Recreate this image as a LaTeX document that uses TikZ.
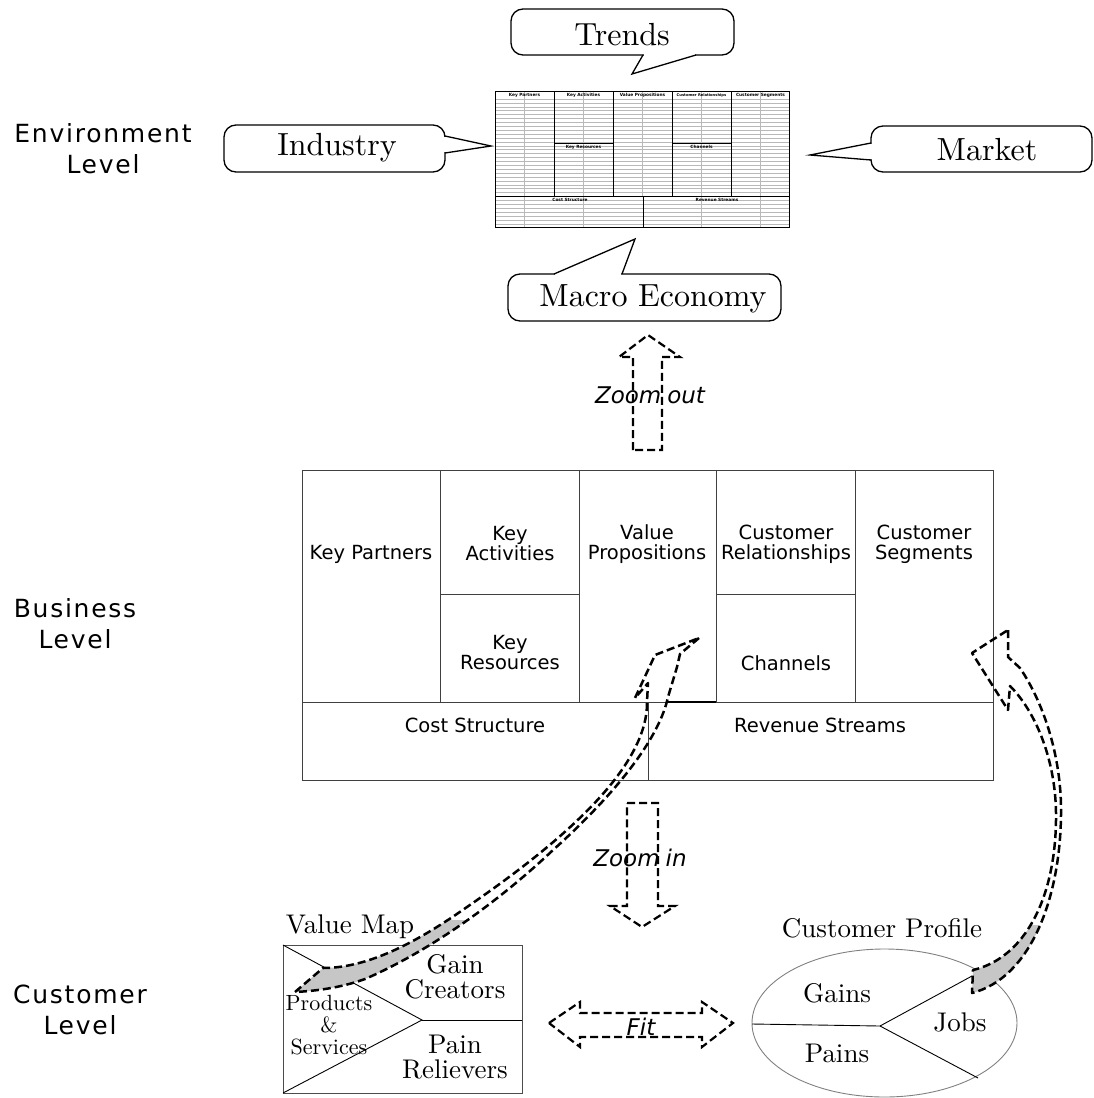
\documentclass[tikz,border=0pt]{standalone}
\usepackage{fontspec}
\newfontfamily\dejavu{DejaVu Sans}
\newfontfamily\lvlfont[LetterSpace=7]{DejaVu Sans}
\newfontfamily\cmten{lmroman10-regular}[Extension=.otf]
\newcommand{\arrowApath}[1]{\path[#1] (699,638) -- (680,654) -- (677,667) -- (668,697)
  .. controls (660,735) and (622,788) .. (552,851)
  .. controls (500,900) and (432,950) .. (365,979)
  .. controls (340,988) and (315,991) .. (295,992)
  -- (323,968)
  .. controls (370,968) and (420,940) .. (467,907)
  .. controls (550,850) and (648,772) .. (647,702)
  -- (648,683) -- (635,698) -- (655,655) -- cycle;}
\newcommand{\arrowBpath}[1]{\path[#1] (1008,630) -- (1008,657) -- (1020,668)
  .. controls (1045,705) and (1062,760) .. (1061,815)
  .. controls (1060,900) and (1030,978) .. (972,993)
  -- (973,970)
  .. controls (1024,958) and (1055,900) .. (1056,820)
  .. controls (1057,762) and (1036,712) .. (1010,686)
  -- (1008,710) -- (972,653) -- cycle;}
\begin{document}
\begin{tikzpicture}[x=1pt,y=-1pt,
  lvl/.style={font=\lvlfont\fontsize{25}{31}\selectfont, align=center, inner sep=0},
  bmc/.style={font=\dejavu\fontsize{19.5}{20}\selectfont, align=center, inner sep=0},
  tiny/.style={font=\dejavu\bfseries\fontsize{4.3}{5}\selectfont, inner sep=0},
  serif/.style={font=\cmten\fontsize{27}{25}\selectfont, align=center, inner sep=0},
  calltext/.style={font=\cmten\fontsize{32}{32}\selectfont, inner sep=0},
  callout/.style={draw, rounded corners=12pt, line width=1.3pt, fill=white},
  pointer/.style={line width=1.3pt, line join=miter},
  eraser/.style={draw=white, line width=3pt},
  bmcline/.style={draw=black!75, line width=1pt},
  gridline/.style={draw=gray!55, line width=0.45pt},
  heavyline/.style={draw=black, line width=0.9pt},
  dashedarrow/.style={draw, line width=2.5pt, dash pattern=on 8pt off 4pt, line join=round},
  blockarrow/.style={draw, line width=2.2pt, dash pattern=on 8pt off 4pt, line join=miter},
  ital/.style={font=\dejavu\itshape\fontsize{23}{23}\selectfont, inner sep=0},
  tailfill/.style={fill=gray!45}
]
\useasboundingbox (0,0) rectangle (1094,1098);

% ---------- level labels ----------
\node[lvl] (envlvl) at (103,149) {Environment\\Level};
\node[lvl] (buslvl) at (75,624) {Business\\Level};
\node[lvl] (custlvl) at (80,1010) {Customer\\Level};

% ---------- thumbnail canvas ----------
\fill[white] (495,91) rectangle (789,227);
\foreach \i in {0,...,32} \draw[gridline] (495,{99+3.9*\i}) -- (789,{99+3.9*\i});
\foreach \x in {524.5,583.5,701.5,760.5} \draw[gridline] (\x,91) -- (\x,227);
\draw[gridline] (642.5,91) -- (642.5,196);
\draw[heavyline] (495,91) rectangle (789,227);
\foreach \x in {554,613,672,731} \draw[heavyline] (\x,91) -- (\x,196);
\draw[heavyline] (554,143) -- (613,143);
\draw[heavyline] (672,143) -- (731,143);
\draw[heavyline] (495,196) -- (789,196);
\draw[heavyline] (643,196) -- (643,227);
\node[tiny] (tkp) at (524.5,95) {Key Partners};
\node[tiny] (tka) at (583.5,95) {Key Activities};
\node[tiny] (tvp) at (642.5,95) {Value Propositions};
\node[tiny, font=\dejavu\bfseries\fontsize{3.7}{4}\selectfont] (tcr) at (701.5,95) {Customer Relationships};
\node[tiny] (tcs) at (760.5,95) {Customer Segments};
\node[tiny] (tkr) at (583.5,147) {Key Resources};
\node[tiny] (tch) at (701.5,147) {Channels};
\node[tiny] (tcost) at (570,200) {Cost Structure};
\node[tiny] (trev) at (717,200) {Revenue Streams};

% ---------- callouts ----------
\draw[callout] (511,9) rectangle (734,55);
\draw[eraser] (644,55) -- (695,55);
\draw[pointer] (643,55) -- (632,74) -- (696,55);
\node[calltext] (trends) at (622,35) {Trends};

\draw[callout] (224,125) rectangle (445,172);
\draw[eraser] (445,137) -- (445,152);
\draw[pointer] (445,136) -- (491,146) -- (445,153);
\node[calltext] (industry) at (337,148) {Industry};

\draw[callout] (871,126) rectangle (1092,172);
\draw[eraser] (871,144) -- (871,159);
\draw[pointer] (871,143) -- (810,155) -- (871,160);
\node[calltext] (market) at (987,150) {Market};

\draw[callout] (508,274) rectangle (781,321);
\draw[eraser] (555,274) -- (621,274);
\draw[pointer] (554,274) -- (635,239) -- (622,274);
\node[calltext] (macro) at (653,299) {Macro Economy};

% ---------- zoom out arrow ----------
\draw[blockarrow] (633,450) -- (633,357) -- (619,357) -- (648,335) -- (680,357) -- (662,357) -- (662,450) -- cycle;
\node[ital] (zoomout) at (650,395) {Zoom\hspace{6pt}out};

% ---------- business model canvas ----------
\draw[bmcline] (302,470) rectangle (993,780);
\foreach \x in {440,579,716,855} \draw[bmcline] (\x,470) -- (\x,702);
\draw[bmcline] (440,594) -- (579,594);
\draw[bmcline] (716,594) -- (855,594);
\draw[bmcline] (302,702) -- (993,702);
\draw[bmcline] (648,702) -- (648,780);
\draw[line width=2pt] (667,702) -- (716,702);
\node[bmc] (kp) at (371,554) {Key Partners};
\node[bmc] (ka) at (510,544) {Key\\Activities};
\node[bmc] (vp) at (647,544) {Value\\Propositions};
\node[bmc] (cr) at (786,544) {Customer\\Relationships};
\node[bmc] (cs) at (924,544) {Customer\\Segments};
\node[bmc] (kr) at (510,653) {Key\\Resources};
\node[bmc] (ch) at (786,663) {Channels};
\node[bmc] (cost) at (475,725) {Cost Structure};
\node[bmc] (rev) at (820,725) {Revenue Streams};

% ---------- zoom in arrow ----------
\draw[blockarrow] (627,803) -- (658,803) -- (658,906) -- (675,906) -- (642,927) -- (610,906) -- (627,906) -- cycle;
\node[ital] (zoomin) at (640,858) {Zoom\hspace{6pt}in};

% ---------- value map ----------
\node[serif] (vmlabel) at (350,927) {Value Map};
\draw[draw=black!70, line width=1pt] (283,945) rectangle (522,1093);
\draw[line width=0.9pt] (283,945) -- (422,1020) -- (283,1093);
\draw[line width=0.9pt] (422,1020) -- (522,1020);
\node[serif] (gain) at (455,977) {Gain\\Creators};
\node[serif] (pain) at (455,1057) {Pain\\Relievers};
\node[serif, font=\cmten\fontsize{22}{22}\selectfont] (ps) at (329,1025) {Products\\\&\\Services};

% ---------- customer profile ----------
\node[serif] (cplabel) at (882,928) {Customer Profile};
\draw[draw=gray, line width=0.9pt] (884.5,1023) ellipse [x radius=132.5, y radius=74];
\coordinate (hub) at (880,1026);
\draw[line width=0.9pt] (hub) -- (752,1024);
\draw[line width=0.9pt] (hub) -- (972,976);
\draw[line width=0.9pt] (hub) -- (978,1078);
\node[serif] (gains) at (837,993) {Gains};
\node[serif] (pains) at (837,1053) {Pains};
\node[serif] (jobs) at (960,1022) {Jobs};

% ---------- fit arrow ----------
\draw[blockarrow] (549,1023) -- (580,1002) -- (580,1013) -- (702,1013) -- (702,1002) -- (733,1023) -- (702,1047) -- (702,1037) -- (580,1037) -- (580,1047) -- cycle;
\node[ital] (fit) at (641,1027) {Fit};

% ---------- curved arrows ----------
\begin{scope}
  \clip (0,920) rectangle (1094,1098);
  \arrowApath{tailfill}
\end{scope}
\arrowApath{dashedarrow}
\begin{scope}
  \clip (0,925) rectangle (1094,1098);
  \arrowBpath{tailfill}
\end{scope}
\arrowBpath{dashedarrow}
\end{tikzpicture}
\end{document}
